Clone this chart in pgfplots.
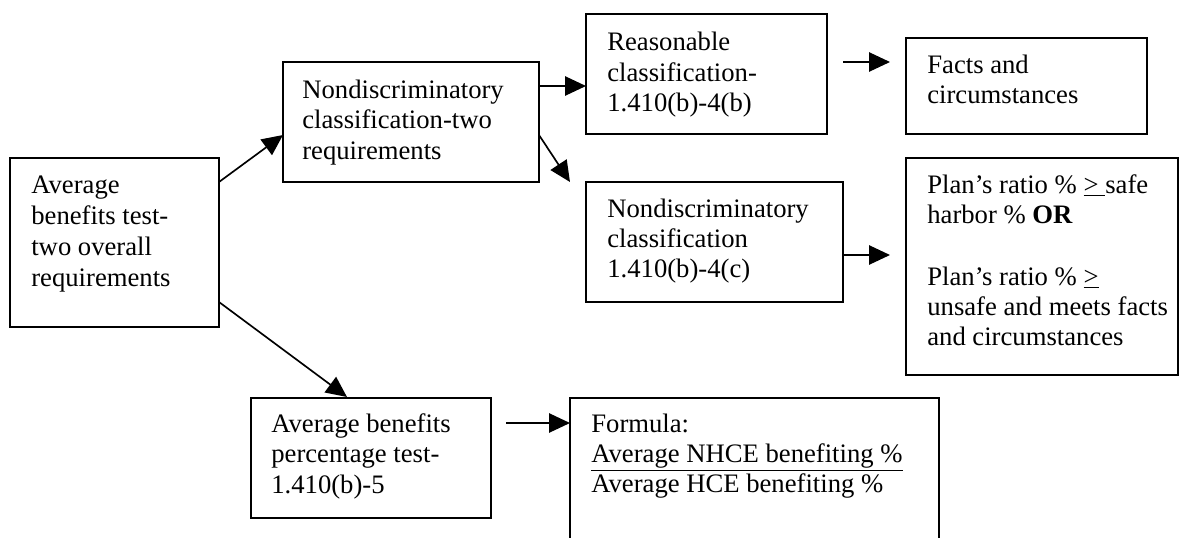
\documentclass[border=0pt]{standalone}
\usepackage{fontspec}
\setmainfont{Liberation Serif}
\usepackage{pgfplots}
\pgfplotsset{compat=1.18}
\usetikzlibrary{arrows.meta}
\newcommand{\tl}[3]{\node[anchor=base west,inner sep=0pt,font=\fontsize{16}{19}\selectfont] at (axis cs:#1,#2) {#3};}
\begin{document}
\begin{tikzpicture}
\begin{axis}[
  width=707.4pt, height=322.2pt, scale only axis,
  xmin=0, xmax=1179, ymin=0, ymax=537, y dir=reverse,
  hide axis, clip=false,
  bx/.style={black, solid, mark=none, line width=1pt, line cap=rect, line join=miter},
  ar/.style={black, solid, mark=none, line width=1pt, line cap=butt, -{Triangle[length=12.5pt,width=11.5pt]}},
]
% boxes
\addplot[bx] coordinates {(10,158)(219,158)(219,327)(10,327)(10,158)};
\addplot[bx] coordinates {(283,62)(539,62)(539,182)(283,182)(283,62)};
\addplot[bx] coordinates {(586,14)(827,14)(827,134)(586,134)(586,14)};
\addplot[bx] coordinates {(906,38)(1147,38)(1147,134)(906,134)(906,38)};
\addplot[bx] coordinates {(586,182)(843,182)(843,302)(586,302)(586,182)};
\addplot[bx] coordinates {(906,158)(1178,158)(1178,375)(906,375)(906,158)};
\addplot[bx] coordinates {(251,398)(491,398)(491,518)(251,518)(251,398)};
\addplot[bx] coordinates {(570,537)(570,398)(939,398)(939,537)};
% arrows
\addplot[ar] coordinates {(219,182)(283,135)};
\addplot[ar] coordinates {(539,86)(586,86)};
\addplot[ar] coordinates {(539,135)(570,182)};
\addplot[ar] coordinates {(843,62)(890,62)};
\addplot[ar] coordinates {(843,255)(890,255)};
\addplot[ar] coordinates {(219,302)(347,397)};
\addplot[ar] coordinates {(506,423)(570,423)};
% texts
\tl{31}{193}{Average}
\tl{31}{224}{benefits test-}
\tl{31}{255}{two overall}
\tl{31}{286}{requirements}
\tl{302}{98}{Nondiscriminatory}
\tl{302}{128.5}{classification-two}
\tl{302}{159}{requirements}
\tl{607}{50}{Reasonable}
\tl{607}{81}{classification-}
\tl{607}{111}{1.410(b)-4(b)}
\tl{927}{73}{Facts and}
\tl{927}{103}{circumstances}
\tl{607}{217}{Nondiscriminatory}
\tl{607}{247}{classification}
\tl{607}{277}{1.410(b)-4(c)}
\tl{927}{193}{Plan’s ratio \% \underline{>\ }safe}
\tl{927}{223}{harbor \% \textbf{OR}}
\tl{927}{285}{Plan’s ratio \% \underline{>}}
\tl{927}{315}{unsafe and meets facts}
\tl{927}{345}{and circumstances}
\tl{271}{432}{Average benefits}
\tl{271}{462}{percentage test-}
\tl{271}{493}{1.410(b)-5}
\tl{591}{432}{Formula:}
\tl{591}{462}{\underline{Average NHCE benefiting \%}}
\tl{591}{492}{Average HCE benefiting \%}
\end{axis}
\pgfresetboundingbox
\path (0,0) rectangle (707.4pt,322.2pt);
\end{tikzpicture}
\end{document}
